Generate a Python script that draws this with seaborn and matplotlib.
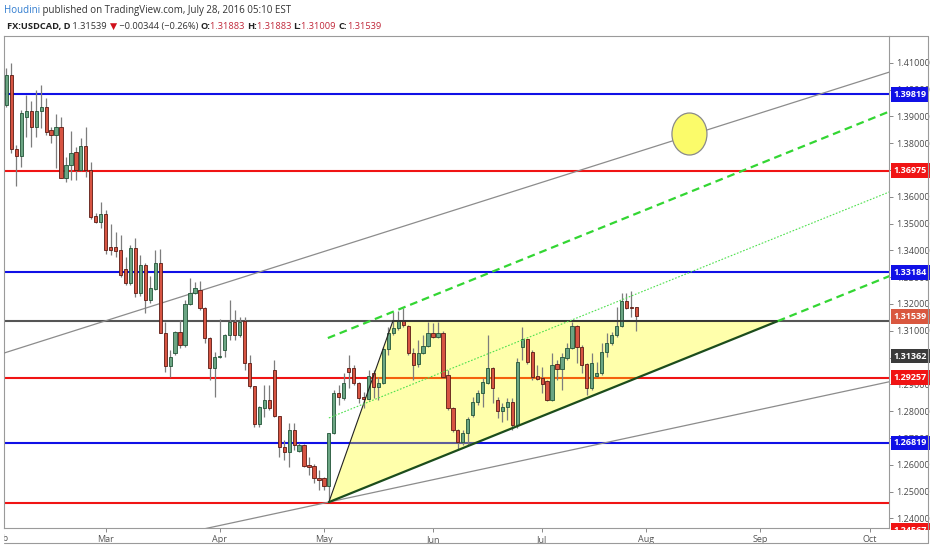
import numpy as np
import pandas as pd
import seaborn as sns
import matplotlib.pyplot as plt
from matplotlib.patches import Ellipse, Polygon, Rectangle
from matplotlib.lines import Line2D
import matplotlib.transforms as mtransforms

sns.set_style('white')
plt.rcParams['font.family'] = ['Open Sans', 'DejaVu Sans']

# daily USDCAD candles, Feb 2 2016 .. Jul 28 2016
opens = [1.3942, 1.4054, 1.3778, 1.3752, 1.3898, 1.3920, 1.3860, 1.3920, 1.3935, 1.3849,
         1.3830, 1.3860, 1.3670, 1.3719, 1.3767, 1.3700, 1.3789, 1.3700, 1.3528, 1.3506,
         1.3536, 1.3413, 1.3413, 1.3401, 1.3331, 1.3278, 1.3409, 1.3241, 1.3345, 1.3215,
         1.3256, 1.3353, 1.3092, 1.2969, 1.3017, 1.3096, 1.3047, 1.3200, 1.3241, 1.3252,
         1.3185, 1.3073, 1.2961, 1.3002, 1.3028, 1.3084, 1.3133, 1.3084, 1.3137, 1.2980,
         1.2894, 1.2752, 1.2812, 1.2842, 1.2954, 1.2782, 1.2667, 1.2648, 1.2730, 1.2652,
         1.2674, 1.2599, 1.2596, 1.2551, 1.2551, 1.2521, 1.2719, 1.2868, 1.2849, 1.2961,
         1.2961, 1.2905, 1.2853, 1.2846, 1.2943, 1.2890, 1.2905, 1.3032, 1.3092, 1.3110,
         1.3137, 1.3118, 1.3017, 1.2976, 1.3017, 1.3043, 1.3092, 1.3077, 1.3092, 1.2935,
         1.2812, 1.2730, 1.2685, 1.2719, 1.2786, 1.2834, 1.2868, 1.2905, 1.2961, 1.2842,
         1.2801, 1.2816, 1.2834, 1.2749, 1.3040, 1.3069, 1.3021, 1.2931, 1.2924, 1.2913,
         1.2842, 1.2976, 1.2958, 1.2999, 1.3036, 1.3118, 1.3040, 1.2976, 1.2887, 1.2931,
         1.2943, 1.3021, 1.3054, 1.3084, 1.3118, 1.3211, 1.3188, 1.31883]
highs = [1.4080, 1.4099, 1.3793, 1.3924, 1.3980, 1.3957, 1.3998, 1.4017, 1.3968, 1.3860,
         1.3909, 1.3898, 1.3748, 1.3845, 1.3786, 1.3819, 1.3860, 1.3730, 1.3539, 1.3580,
         1.3551, 1.3498, 1.3469, 1.3457, 1.3375, 1.3420, 1.3446, 1.3383, 1.3353, 1.3304,
         1.3401, 1.3405, 1.3133, 1.3028, 1.3099, 1.3140, 1.3215, 1.3297, 1.3282, 1.3286,
         1.3189, 1.3077, 1.3021, 1.3144, 1.3088, 1.3215, 1.3178, 1.3151, 1.3151, 1.3010,
         1.2896, 1.2818, 1.2898, 1.2898, 1.2991, 1.2784, 1.2693, 1.2756, 1.2756, 1.2682,
         1.2676, 1.2629, 1.2603, 1.2581, 1.2555, 1.2719, 1.2879, 1.2898, 1.2943, 1.3010,
         1.2972, 1.2909, 1.2872, 1.2954, 1.2954, 1.2928, 1.3040, 1.3114, 1.3170, 1.3174,
         1.3185, 1.3122, 1.3036, 1.3066, 1.3084, 1.3133, 1.3129, 1.3133, 1.3099, 1.2954,
         1.2816, 1.2734, 1.2730, 1.2778, 1.2853, 1.2879, 1.2924, 1.3084, 1.2965, 1.2853,
         1.2831, 1.2849, 1.2849, 1.2999, 1.3114, 1.3071, 1.3028, 1.2972, 1.2965, 1.2917,
         1.3017, 1.2991, 1.3017, 1.3054, 1.3133, 1.3122, 1.3047, 1.2980, 1.3017, 1.2984,
         1.3054, 1.3092, 1.3096, 1.3189, 1.3241, 1.3241, 1.3248, 1.31883]
lows = [1.3935, 1.3763, 1.3640, 1.3711, 1.3823, 1.3786, 1.3823, 1.3856, 1.3830, 1.3800,
        1.3707, 1.3670, 1.3655, 1.3663, 1.3663, 1.3695, 1.3674, 1.3517, 1.3502, 1.3483,
        1.3386, 1.3383, 1.3375, 1.3301, 1.3271, 1.3271, 1.3226, 1.3230, 1.3166, 1.3204,
        1.3252, 1.3092, 1.2946, 1.2928, 1.3010, 1.3036, 1.3040, 1.3196, 1.3237, 1.3178,
        1.3054, 1.2917, 1.2853, 1.2999, 1.3002, 1.3066, 1.3066, 1.3077, 1.2954, 1.2887,
        1.2741, 1.2741, 1.2778, 1.2805, 1.2778, 1.2629, 1.2618, 1.2592, 1.2655, 1.2648,
        1.2592, 1.2562, 1.2532, 1.2506, 1.2506, 1.2461, 1.2715, 1.2823, 1.2842, 1.2887,
        1.2898, 1.2831, 1.2812, 1.2842, 1.2849, 1.2842, 1.2902, 1.3010, 1.3084, 1.3103,
        1.3114, 1.3010, 1.2917, 1.2965, 1.3015, 1.3040, 1.3073, 1.3073, 1.2924, 1.2805,
        1.2723, 1.2655, 1.2674, 1.2674, 1.2778, 1.2823, 1.2816, 1.2903, 1.2831, 1.2775,
        1.2760, 1.2767, 1.2730, 1.2738, 1.2991, 1.2976, 1.2917, 1.2917, 1.2868, 1.2838,
        1.2840, 1.2917, 1.2879, 1.2991, 1.3034, 1.2980, 1.2943, 1.2860, 1.2879, 1.2928,
        1.2935, 1.3002, 1.3047, 1.3077, 1.3114, 1.3181, 1.3151, 1.31009]
closes = [1.4054, 1.3778, 1.3752, 1.3912, 1.3920, 1.3860, 1.3920, 1.3935, 1.3842, 1.3830,
          1.3860, 1.3670, 1.3719, 1.3763, 1.3700, 1.3789, 1.3700, 1.3525, 1.3506, 1.3536,
          1.3401, 1.3401, 1.3398, 1.3308, 1.3278, 1.3409, 1.3241, 1.3345, 1.3215, 1.3260,
          1.3353, 1.3092, 1.2969, 1.3002, 1.3096, 1.3047, 1.3200, 1.3241, 1.3260, 1.3185,
          1.3073, 1.2961, 1.3002, 1.3006, 1.3084, 1.3133, 1.3084, 1.3133, 1.2980, 1.2894,
          1.2752, 1.2816, 1.2842, 1.2812, 1.2782, 1.2667, 1.2648, 1.2730, 1.2674, 1.2674,
          1.2596, 1.2592, 1.2551, 1.2543, 1.2521, 1.2719, 1.2868, 1.2853, 1.2905, 1.2946,
          1.2905, 1.2849, 1.2846, 1.2931, 1.2890, 1.2905, 1.3032, 1.3092, 1.3110, 1.3137,
          1.3122, 1.3017, 1.2972, 1.3017, 1.3043, 1.3092, 1.3077, 1.3092, 1.2928, 1.2812,
          1.2730, 1.2685, 1.2719, 1.2771, 1.2834, 1.2868, 1.2909, 1.2961, 1.2887, 1.2801,
          1.2816, 1.2834, 1.2749, 1.2984, 1.3069, 1.2984, 1.2928, 1.2920, 1.2902, 1.2842,
          1.2972, 1.2958, 1.3002, 1.3036, 1.3118, 1.3040, 1.2972, 1.2887, 1.2980, 1.2943,
          1.3021, 1.3054, 1.3084, 1.3118, 1.3211, 1.3185, 1.3185, 1.31539]

# horizontal levels and their price tags
levels = [1.39819, 1.36975, 1.33184, 1.31362, 1.29257, 1.26819, 1.24567]
level_colors = ['#1010e6', '#f01414', '#1010e6', '#555555', '#f01414', '#1010e6', '#f01414']
last_close = 1.31539

# drawn lines: (bar, price) anchor points
gray_upper = [(0.5, 1.3017), (179.0, 1.4065)]
gray_lower = [(38.0, 1.2350), (179.0, 1.2910)]
channel_low = [(66.0, 1.2461), (156.5, 1.31362)]
channel_low_ext = [(156.5, 1.31362), (179.0, 1.3304)]
channel_high = [(65.8, 1.3073), (179.0, 1.3918)]
channel_mid = [(66.0, 1.2775), (179.0, 1.3618)]
triangle = [(66.0, 1.2461), (78.9, 1.31362), (156.5, 1.31362)]
circle_center = (138.7, 1.3834)

# calendar in business days, Feb 1 2016 is bar 0
days = pd.bdate_range('2016-02-01', '2016-10-31')
bars = np.arange(1, len(opens) + 1)
month_first = pd.Series(np.arange(len(days)), index=days).groupby(days.to_period('M')).min()
month_first = month_first[month_first > 0]
month_names = [p.strftime('%b') for p in month_first.index]

W, H = 932, 550
fig = plt.figure(figsize=(W / 100, H / 100), dpi=100)
fig.patch.set_facecolor('white')
ax = fig.add_axes([4 / W, 22 / H, 885 / W, 492 / H])
ax.set_facecolor('white')
ax.set_xlim(0.504, 178.93)
ax.set_ylim(1.23645, 1.41996)

# levels
for lv, col in zip(levels, level_colors):
    ax.axhline(lv, color=col, lw=1.5, zorder=2)

# yellow triangle
ax.add_patch(Polygon(triangle, closed=True, facecolor='#ffff00', alpha=0.33,
                     edgecolor='none', zorder=2.5))
tx, ty = zip(*triangle)
ax.plot([tx[0], tx[1]], [ty[0], ty[1]], color='#222222', lw=0.8, zorder=5)
ax.plot([tx[1], tx[2]], [ty[1], ty[2]], color='#333333', lw=1.3, zorder=5)

# gray trendlines
for seg in (gray_upper, gray_lower):
    xs, ys = zip(*seg)
    ax.plot(xs, ys, color='#8c8c8c', lw=0.9, zorder=3)

# channel
xs, ys = zip(*channel_low)
ax.plot(xs, ys, color='#1c4d1c', lw=1.6, zorder=5)
for seg in (channel_low_ext, channel_high):
    xs, ys = zip(*seg)
    ax.plot(xs, ys, color='#33d633', lw=1.6, ls=(0, (3.5, 2.2)), zorder=5)
xs, ys = zip(*channel_mid)
ax.plot(xs, ys, color='#4ee04e', lw=0.8, ls=(0, (1.5, 1.5)), zorder=5)

# candles
o = np.array(opens); h = np.array(highs); l = np.array(lows); c = np.array(closes)
up = c >= o
ax.vlines(bars, l, h, color='#7d7d7d', lw=0.9, zorder=3.5)
body = np.maximum(np.abs(c - o), 0.00025)
ax.bar(bars[up], body[up], bottom=np.minimum(o, c)[up], width=0.66,
       color='#6ba583', edgecolor='#225437', linewidth=0.6, zorder=4)
ax.bar(bars[~up], body[~up], bottom=np.minimum(o, c)[~up], width=0.66,
       color='#d75442', edgecolor='#5b1a13', linewidth=0.6, zorder=4)

# circle marker
ax.add_patch(Ellipse(circle_center, 7.06, 0.01567, facecolor='#fbfb6a',
                     edgecolor='#8a8a8a', lw=0.9, zorder=5))

# axes styling
for s in ax.spines.values():
    s.set_color('#9a9a9a')
    s.set_linewidth(0.8)
ax.yaxis.tick_right()
yt = np.round(np.arange(1.24, 1.4101, 0.01), 2)
ax.set_yticks(yt)
ax.set_yticklabels([f'{v:.5f}' for v in yt])
ax.tick_params(axis='y', right=True, left=False, length=3, width=0.7, color='#888888',
               labelsize=6.5, labelcolor='#4a4a4a', pad=2)
ax.set_xticks(month_first.values)
ax.set_xticklabels(month_names)
ax.tick_params(axis='x', bottom=True, length=3, width=0.7, color='#888888',
               labelsize=6.5, labelcolor='#555555', pad=2)
# "Feb" label sits at the pane's left edge and is cut there
feb = ax.text(1.41, -0.012, 'Feb',
              transform=mtransforms.blended_transform_factory(ax.transData, ax.transAxes),
              ha='right', va='top', fontsize=6.5, color='#555555', clip_on=True)
feb.set_clip_box(mtransforms.Bbox.from_extents(4, 0, W, H))
ax.grid(False)

# price tags on the right axis
blend = mtransforms.blended_transform_factory(ax.transAxes, ax.transData)
tags = list(zip(levels, level_colors, levels))
tags[3] = (1.3006, '#3a3a3a', 1.31362)    # pushed down by the last-price tag
tags[6] = (1.2357, '#f01414', 1.24567)    # pushed below the pane
tags.append((last_close, '#d9573f', last_close))
for ypos, col, val in tags:
    ax.text(1.0 + 4.5 / 885, ypos, f'{val:.5f}', transform=blend, ha='left', va='center',
            fontsize=6.5, fontweight='bold', color='white', clip_on=False, zorder=6,
            bbox=dict(boxstyle='square,pad=0.32', fc=col, ec='none'))

# cover below the pane on the price scale, frame lines
fig.add_artist(Rectangle((889.5 / W, 0), 42.5 / W, 20 / H, transform=fig.transFigure,
                         fc='white', ec='none', zorder=10))
fig.add_artist(Line2D([4 / W, 928 / W], [7 / H, 7 / H], transform=fig.transFigure,
                      color='#9a9a9a', lw=0.8, zorder=11))
fig.add_artist(Line2D([928 / W, 928 / W], [7 / H, 514 / H], transform=fig.transFigure,
                      color='#9a9a9a', lw=0.8, zorder=11))
fig.add_artist(Line2D([889 / W, 928 / W], [514 / H, 514 / H], transform=fig.transFigure,
                      color='#9a9a9a', lw=0.8, zorder=11))

# header
renderer = fig.canvas.get_renderer()


def write_line(pieces, x, y, size):
    for txt, col, wt in pieces:
        t = fig.text(x / W, 1 - y / H, txt, color=col, fontsize=size, fontweight=wt,
                     ha='left', va='baseline')
        x += t.get_window_extent(renderer).width


write_line([('Houdini', '#2e7bcf', 'normal'),
            (' published on TradingView.com, July 28, 2016 05:10 EST', '#333333', 'normal')],
           4, 13, 7)
red = '#c0283a'
write_line([('FX:USDCAD, D', '#222222', 'bold'), (' 1.31539 ', '#333333', 'normal'),
            ('▼', '#d0101b', 'normal'), (' \u22120.00344 (\u22120.26%) ', '#333333', 'normal'),
            ('O:', '#222222', 'bold'), ('1.31883 ', red, 'normal'),
            ('H:', '#222222', 'bold'), ('1.31883 ', red, 'normal'),
            ('L:', '#222222', 'bold'), ('1.31009 ', red, 'normal'),
            ('C:', '#222222', 'bold'), ('1.31539', red, 'normal')],
           7, 29, 6.7)

fig.savefig('out.png', dpi=100)
